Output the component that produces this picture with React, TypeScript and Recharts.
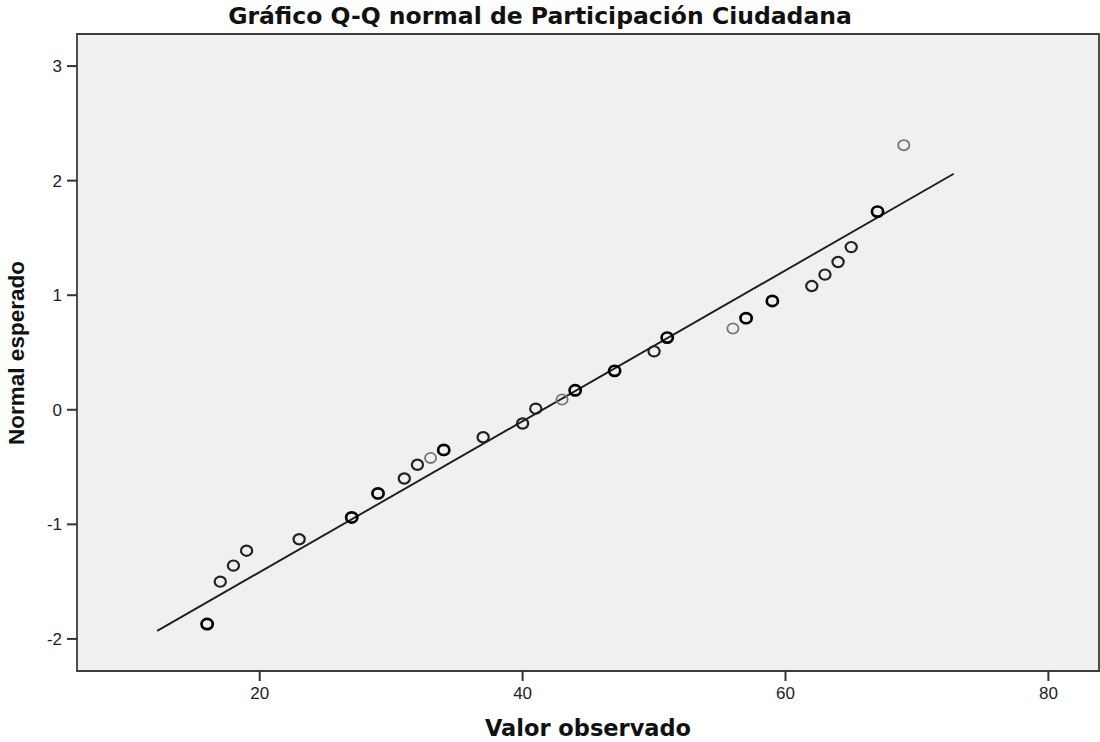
import React from 'react';
import { ScatterChart, Scatter, XAxis, YAxis, ReferenceArea, ReferenceLine } from 'recharts';

// Observed values (Participación Ciudadana) and expected normal quantiles
const valorObservado = [16, 17, 18, 19, 23, 27, 29, 31, 32, 33, 34, 37, 40, 41, 43, 44, 47, 50, 51, 56, 57, 59, 62, 63, 64, 65, 67, 69];
const normalEsperado = [-1.87, -1.5, -1.36, -1.23, -1.13, -0.94, -0.73, -0.6, -0.48, -0.42, -0.35, -0.24, -0.12, 0.01, 0.09, 0.17, 0.34, 0.51, 0.63, 0.71, 0.8, 0.95, 1.08, 1.18, 1.29, 1.42, 1.73, 2.31];
// number of overlapping cases drawn at each point
const casos = [3, 2, 2, 2, 2, 3, 3, 2, 2, 1, 3, 2, 2, 2, 1, 3, 3, 2, 3, 1, 3, 3, 2, 2, 2, 2, 3, 1];

const ticksX = [20, 40, 60, 80];
const ticksY = [-2, -1, 0, 1, 2, 3];
const rectaX = [12.2, 72.8];
const rectaY = [-1.93, 2.06];

const dominioX: [number, number] = [6.1, 83.85];
const dominioY: [number, number] = [-2.28, 3.28];

const puntos = valorObservado.map((x, i) => ({ x, y: normalEsperado[i], casos: casos[i] }));

const estilo: Record<number, { stroke: string; w: number }> = {
  1: { stroke: '#777', w: 1.8 },
  2: { stroke: '#222', w: 2.2 },
  3: { stroke: '#000', w: 2.7 },
};

const makeShape = (c: number) => (props: any) => {
  const s = estilo[c];
  return <ellipse cx={props.cx} cy={props.cy} rx={5.6} ry={5.1} fill="none" stroke={s.stroke} strokeWidth={s.w} />;
};

const tickStyle = { fill: '#222', fontSize: 17, fontFamily: 'Liberation Sans' };

export default function App() {
  return (
    <div style={{ position: 'absolute', left: 0, top: 0, width: 1100, height: 742, background: '#fff' }}>
      <ScatterChart width={1100} height={742} margin={{ top: 34, right: 1, bottom: 0, left: 0 }}>
        <XAxis
          type="number"
          dataKey="x"
          domain={dominioX}
          ticks={ticksX}
          allowDataOverflow
          height={71}
          tickSize={10}
          tickMargin={6}
          axisLine={false}
          tickLine={{ stroke: '#333', strokeWidth: 2 }}
          tick={tickStyle}
        />
        <YAxis
          type="number"
          dataKey="y"
          domain={dominioY}
          ticks={ticksY}
          allowDataOverflow
          width={77}
          tickSize={10}
          tickMargin={5}
          axisLine={false}
          tickLine={{ stroke: '#333', strokeWidth: 2 }}
          tick={tickStyle}
        />
        <ReferenceArea
          x1={dominioX[0]}
          x2={dominioX[1]}
          y1={dominioY[0]}
          y2={dominioY[1]}
          fill="#f0f0f0"
          fillOpacity={1}
          stroke="#3c3c3c"
          strokeWidth={1.8}
          ifOverflow="visible"
        />
        <ReferenceLine
          segment={[
            { x: rectaX[0], y: rectaY[0] },
            { x: rectaX[1], y: rectaY[1] },
          ]}
          stroke="#1e1e1e"
          strokeWidth={1.9}
          ifOverflow="visible"
        />
        {[1, 2, 3].map((c) => (
          <Scatter
            key={c}
            data={puntos.filter((p) => p.casos === c)}
            isAnimationActive={false}
            shape={makeShape(c)}
          />
        ))}
      </ScatterChart>
      <svg
        width={1100}
        height={742}
        style={{ position: 'absolute', left: 0, top: 0, pointerEvents: 'none' }}
      >
        <text x={540} y={24} textAnchor="middle" fontFamily="DejaVu Sans" fontWeight="bold" fontSize={23.5} fill="#111">
          Gráfico Q-Q normal de Participación Ciudadana
        </text>
        <text x={588} y={736} textAnchor="middle" fontFamily="DejaVu Sans" fontWeight="bold" fontSize={22.5} fill="#111">
          Valor observado
        </text>
        <text
          x={24}
          y={353}
          textAnchor="middle"
          transform="rotate(-90, 24, 353)"
          fontFamily="Liberation Sans"
          fontWeight="bold"
          fontSize={22.5}
          fill="#111"
        >
          Normal esperado
        </text>
      </svg>
    </div>
  );
}
